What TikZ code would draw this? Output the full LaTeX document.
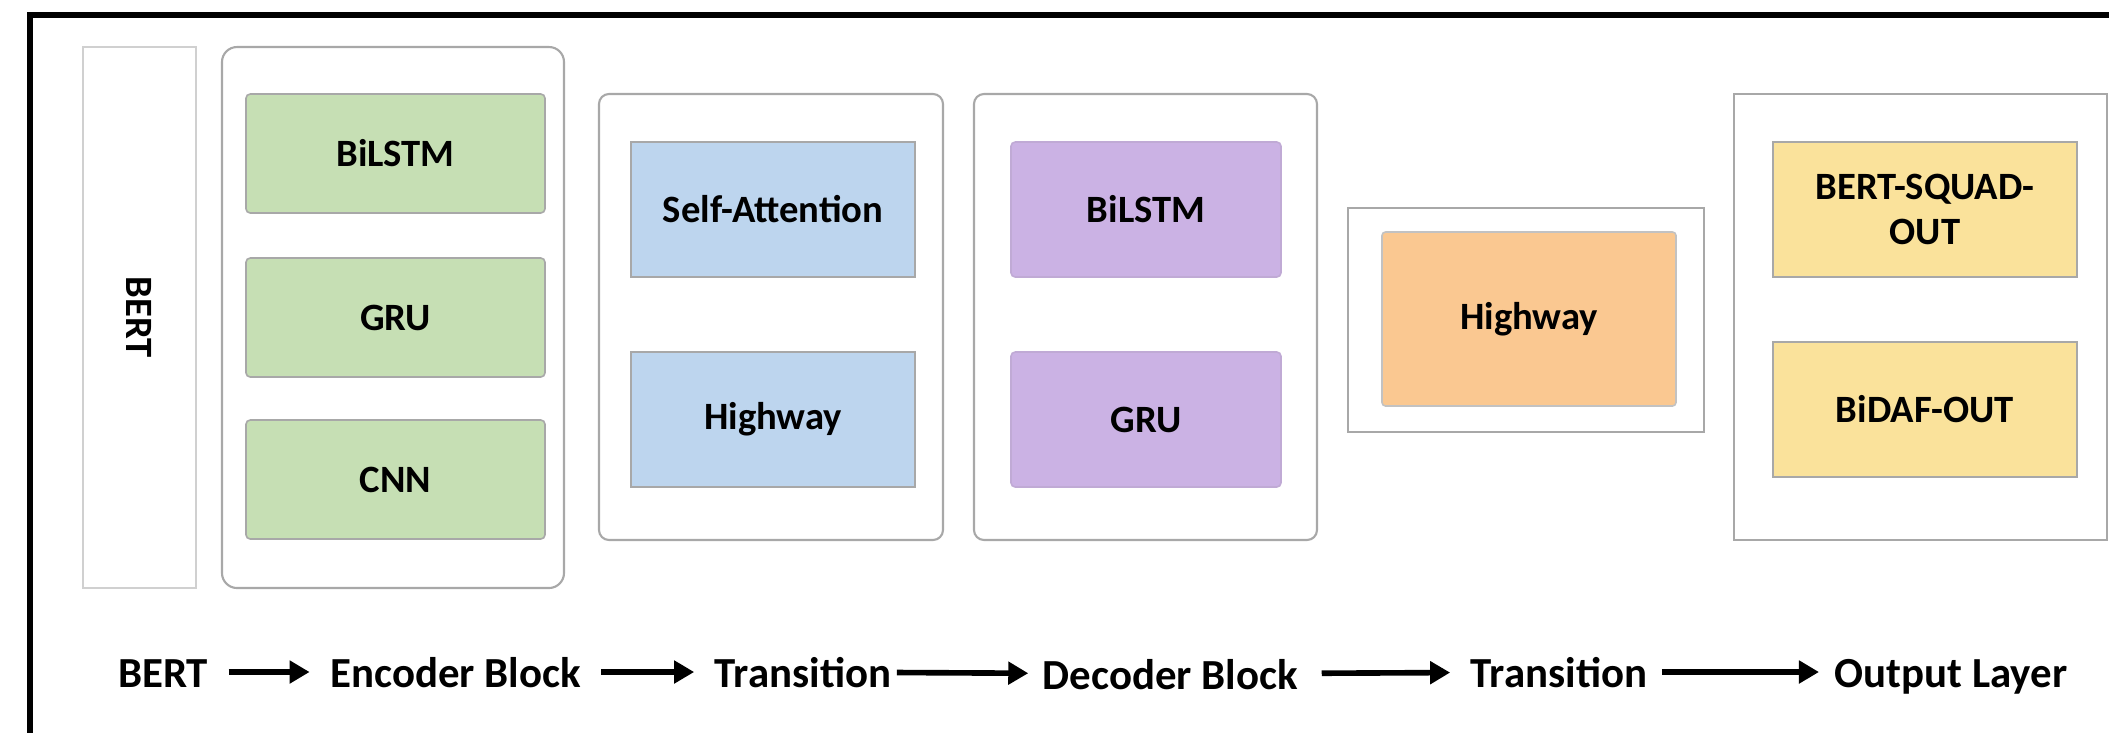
\documentclass[tikz,border=0pt]{standalone}
\usepackage{fontspec}
\setmainfont{Carlito}
\usetikzlibrary{positioning, arrows.meta}

\definecolor{encgreen}{RGB}{198,223,180}
\definecolor{trblue}{RGB}{189,213,238}
\definecolor{decpurple}{RGB}{203,178,228}
\definecolor{hworange}{RGB}{250,200,145}
\definecolor{outyellow}{RGB}{250,226,155}
\definecolor{boxgray}{RGB}{168,168,168}
\definecolor{bertgray}{RGB}{208,208,208}

\begin{document}
\begin{tikzpicture}[
    frame/.style={line width=0.06cm},
    outer/.style={draw=boxgray, line width=0.6pt, fill=white, anchor=north west, inner sep=0pt, outer sep=0pt},
    layer/.style={draw=boxgray, line width=0.45pt, inner sep=0pt, outer sep=0pt, align=center, font=\fontsize{11}{12.8}\selectfont\bfseries},
    encbox/.style={layer, fill=encgreen, rounded corners=1.2pt, minimum width=2.99cm, minimum height=1.19cm},
    trbox/.style={layer, fill=trblue, minimum width=2.84cm, minimum height=1.35cm},
    decbox/.style={layer, fill=decpurple, draw=decpurple!85!gray, rounded corners=1.2pt, minimum width=2.70cm, minimum height=1.35cm},
    hwbox/.style={layer, fill=hworange, draw=boxgray!70, rounded corners=1pt, minimum width=2.94cm, minimum height=1.74cm},
    outbox/.style={layer, fill=outyellow, minimum width=3.04cm, minimum height=1.35cm},
    stage/.style={font=\fontsize{12.2}{14}\selectfont\bfseries, inner sep=0pt, anchor=base, text height=0.36cm, text depth=0.06cm},
    arr/.style={-{Triangle[length=2mm, width=2.2mm]}, line width=1.6pt, shorten <=2mm, shorten >=2mm}
  ]
  \useasboundingbox (0,0) rectangle (21.09,-7.32);
  \draw[frame] (0.305,-7.6) -- (0.305,-0.145) -- (21.4,-0.145);

  % outer blocks
  \node[outer, draw=bertgray, minimum width=1.13cm, minimum height=5.41cm] (bert) at (0.83,-0.47) {};
  \node[rotate=-90, font=\fontsize{11}{12.8}\selectfont\bfseries] (berttxt) at (bert) {BERT};
  \node[outer, rounded corners=0.15cm, minimum width=3.42cm, minimum height=5.41cm] (encoder) at (2.22,-0.47) {};
  \node[outer, rounded corners=0.1cm, minimum width=3.44cm, minimum height=4.46cm] (trans1) at (5.99,-0.94) {};
  \node[outer, rounded corners=0.1cm, minimum width=3.43cm, minimum height=4.46cm] (decoder) at (9.74,-0.94) {};
  \node[outer, minimum width=3.56cm, minimum height=2.24cm] (trans2) at (13.48,-2.08) {};
  \node[outer, minimum width=3.73cm, minimum height=4.46cm] (output) at (17.34,-0.94) {};

  % encoder choices
  \node[encbox, below right=0.47cm and 0.24cm of encoder.north west] (encl) {BiLSTM};
  \node[encbox, below=0.45cm of encl] (encg) {GRU};
  \node[encbox, below=0.43cm of encg] (encc) {CNN};

  % first transition
  \node[trbox, below right=0.48cm and 0.32cm of trans1.north west] (selfatt) {Self-Attention};
  \node[trbox, below=0.75cm of selfatt] (hwa) {Highway};

  % decoder choices
  \node[decbox, below right=0.48cm and 0.37cm of decoder.north west] (decl) {BiLSTM};
  \node[decbox, below=0.75cm of decl] (decg) {GRU};

  % second transition
  \node[hwbox, below right=0.24cm and 0.34cm of trans2.north west] (hwb) {Highway};

  % output heads
  \node[outbox, below right=0.48cm and 0.39cm of output.north west] (squad) {BERT-SQUAD-\\OUT};
  \node[outbox, below=0.65cm of squad] (bidaf) {BiDAF-OUT};

  % pipeline row
  \node[stage] (lbert) at (1.63,-6.87) {BERT};
  \node[stage] (lenc) at (4.555,-6.87) {Encoder Block};
  \node[stage] (ltr1) at (8.03,-6.87) {Transition};
  \node[stage] (ldec) at (11.705,-6.89) {Decoder Block};
  \node[stage] (ltr2) at (15.59,-6.87) {Transition};
  \node[stage] (lout) at (19.51,-6.87) {Output Layer};

  \draw[arr] (lbert) -- (lenc);
  \draw[arr] (lenc) -- (ltr1);
  \draw[arr, shorten <=0.5mm, shorten >=1.4mm] (ltr1) -- (ldec);
  \draw[arr, shorten <=2.3mm] (ldec) -- (ltr2);
  \draw[arr, shorten <=1.4mm, shorten >=1.5mm] (ltr2) -- (lout);
\end{tikzpicture}
\end{document}
